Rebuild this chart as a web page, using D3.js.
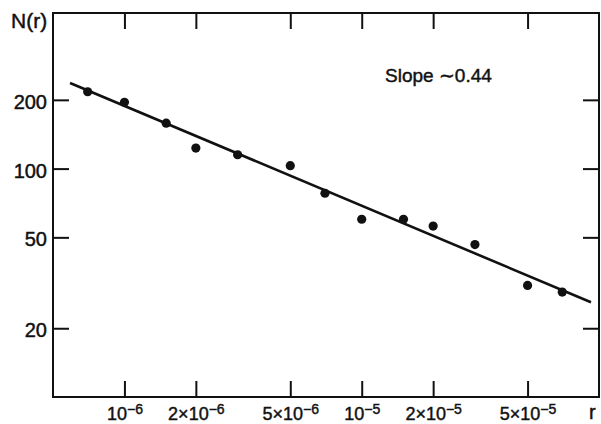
<!DOCTYPE html>
<html>
<head>
<meta charset="utf-8">
<script src="https://cdn.jsdelivr.net/npm/d3@7"></script>
<style>
  html, body { margin: 0; padding: 0; background: #fff; }
  svg { display: block; }
  text { font-family: "Liberation Sans", Arial, sans-serif; fill: #111; stroke: #111; stroke-width: 0.45px; }
</style>
</head>
<body>
<svg id="chart" width="601" height="424"></svg>
<script>
// Measured cluster counts N(r) against radius r
const radii  = [7e-7, 1e-6, 1.5e-6, 2e-6, 3e-6, 5e-6, 7e-6, 1e-5, 1.5e-5, 2e-5, 3e-5, 5e-5, 7e-5];
const counts = [217, 195, 158, 123, 115, 103, 78, 60, 60, 56, 46.5, 30.8, 28.8];

// Power-law fit, slope about -0.44 (end points)
const fitR = [5.9e-7, 9.25e-5];
const fitN = [237, 26];

// Axis ticks
const xTicks = [1e-6, 2e-6, 5e-6, 1e-5, 2e-5, 5e-5];
const xTickMant = ["", "2×", "5×", "", "2×", "5×"];
const xTickExp = ["−6", "−6", "−6", "−5", "−5", "−5"];
const yTicks = [20, 50, 100, 200];
const yTickLabels = ["20", "50", "100", "200"];

const svg = d3.select("#chart");
const plotL = 53, plotR = 599, plotT = 13, plotB = 397;

const x = d3.scaleLog().domain([5e-7, 1e-4]).range([plotL, plotR]);
const y = d3.scaleLog().domain([10, 480]).range([plotB, plotT]);

// Bottom axis: inward ticks, labels with superscript exponents
const gx = svg.append("g").attr("transform", `translate(0,${plotB})`)
  .call(d3.axisBottom(x).tickValues(xTicks).tickSize(-16).tickSizeOuter(0).tickPadding(10).tickFormat(() => ""));
gx.selectAll(".tick text").each(function(d, i) {
  const t = d3.select(this).attr("font-size", 18);
  t.text(null);
  t.append("tspan").text(xTickMant[i] + "10");
  t.append("tspan").attr("dy", "-0.42em").attr("font-size", 14).text(xTickExp[i]);
});

// Top axis: ticks only
svg.append("g").attr("transform", `translate(0,${plotT})`)
  .call(d3.axisTop(x).tickValues(xTicks).tickSize(-16).tickSizeOuter(0).tickFormat(() => ""));

// Left axis
svg.append("g").attr("transform", `translate(${plotL},0)`)
  .call(d3.axisLeft(y).tickValues(yTicks).tickSize(-16).tickSizeOuter(0).tickPadding(6)
    .tickFormat((d, i) => yTickLabels[i]))
  .selectAll(".tick text").attr("font-size", 20).attr("dy", "0.42em");

// Right axis: ticks only
svg.append("g").attr("transform", `translate(${plotR},0)`)
  .call(d3.axisRight(y).tickValues(yTicks).tickSize(-16).tickSizeOuter(0).tickFormat(() => ""));

svg.selectAll(".domain").remove();
svg.selectAll("g[font-family]").attr("font-family", null);
svg.selectAll(".tick line").attr("stroke", "#111").attr("stroke-width", 2);

// Frame
svg.append("rect")
  .attr("x", plotL).attr("y", plotT)
  .attr("width", plotR - plotL).attr("height", plotB - plotT)
  .attr("fill", "none").attr("stroke", "#111").attr("stroke-width", 2);

// Fit line
svg.append("path")
  .datum(fitR.map((r, i) => [r, fitN[i]]))
  .attr("fill", "none").attr("stroke", "#111").attr("stroke-width", 2.6)
  .attr("d", d3.line().x(d => x(d[0])).y(d => y(d[1])));

// Data points
svg.append("g").selectAll("circle")
  .data(radii.map((r, i) => [r, counts[i]]))
  .join("circle")
  .attr("cx", d => x(d[0])).attr("cy", d => y(d[1]))
  .attr("r", 4.6).attr("fill", "#111");

// Axis titles and annotation
svg.append("text").attr("x", 11).attr("y", 28).attr("font-size", 21).text("N(r)");
svg.append("text").attr("x", 589).attr("y", 419).attr("font-size", 20).text("r");
svg.append("text").attr("x", 385).attr("y", 82).attr("font-size", 19).text("Slope ∼0.44");
</script>
</body>
</html>
